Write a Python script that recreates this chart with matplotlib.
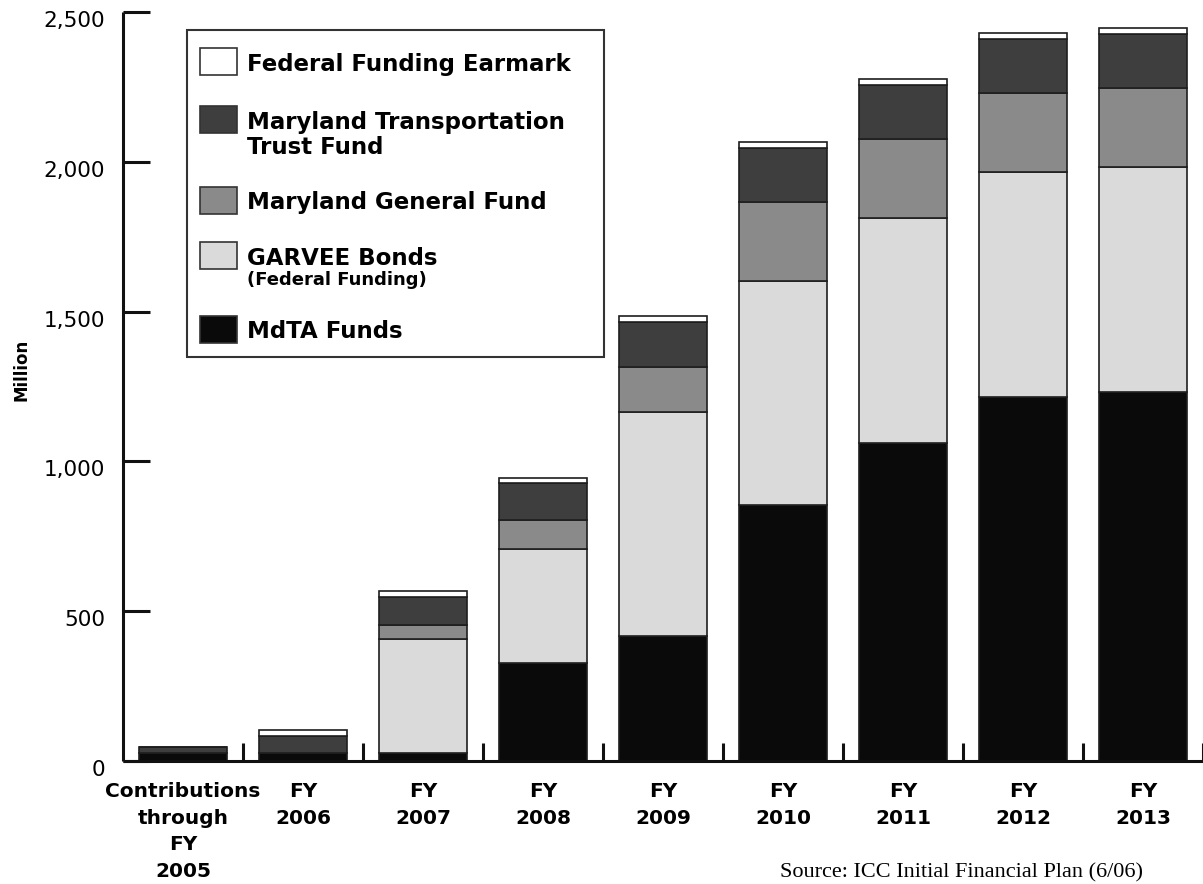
import numpy as np
import matplotlib
matplotlib.use("Agg")
import matplotlib.pyplot as plt
from matplotlib.patches import Rectangle
from matplotlib.transforms import ScaledTranslation

# funding by source, $ million
categories = ["Contributions\nthrough\nFY\n2005", "FY\n2006", "FY\n2007", "FY\n2008",
              "FY\n2009", "FY\n2010", "FY\n2011", "FY\n2012", "FY\n2013"]
mdta = [28, 27, 27, 327, 417, 853, 1062, 1216, 1233]
garvee = [0, 0, 380, 380, 748, 749, 750, 749, 750]
general_fund = [0, 0, 48, 98, 150, 265, 264, 266, 264]
trust_fund = [20, 57, 92, 122, 150, 180, 180, 179, 179]
earmark = [0, 21, 20, 17, 20, 20, 19, 19, 20]

series = [mdta, garvee, general_fund, trust_fund, earmark]
colors = ["#0a0a0a", "#dadada", "#8a8a8a", "#3e3e3e", "#ffffff"]

W, H = 1203, 884
fig = plt.figure(figsize=(W / 100, H / 100), dpi=100)
ax = fig.add_axes([123 / W, (H - 761) / H, (W - 123) / W, (761 - 12) / H])

x = np.arange(len(categories))
bottom = np.zeros(len(categories))
for vals, c in zip(series, colors):
    vals = np.array(vals, dtype=float)
    ax.bar(x, vals, 0.733, bottom=bottom, color=c, edgecolor="#1e1e1e", linewidth=1.2)
    bottom += vals

ax.set_xlim(-0.5, 8.5)
ax.set_ylim(0, 2500)

for s in ["top", "right"]:
    ax.spines[s].set_visible(False)
for s in ["left", "bottom"]:
    ax.spines[s].set_linewidth(2.2)
    ax.spines[s].set_color("#111111")
    ax.spines[s].set_capstyle("butt")

ax.set_yticks([0, 500, 1000, 1500, 2000, 2500])
ax.set_yticklabels(["0", "500", "1,000", "1,500", "2,000", "2,500"], fontsize=15.5,
                   family="DejaVu Sans")
ax.tick_params(axis="y", direction="in", length=19.5, width=2.2, pad=13, color="#111111")
offset = ScaledTranslation(0, -0.07, fig.dpi_scale_trans)
for lbl in ax.get_yticklabels():
    lbl.set_transform(lbl.get_transform() + offset)

ax.set_xticks(x)
ax.set_xticklabels(categories, fontsize=14.5, fontweight="bold", family="DejaVu Sans",
                   linespacing=1.52)
ax.tick_params(axis="x", which="major", length=0, pad=15)
ax.set_xticks(x + 0.5, minor=True)
ax.tick_params(axis="x", which="minor", direction="in", length=13, width=2.2, color="#111111")

fig.text(22 / W, 1 - 370 / H, "Million", rotation=90, fontsize=12, fontweight="bold",
         ha="center", va="center")

# legend box drawn by hand (mixed font sizes in one entry)
fig.add_artist(Rectangle((187 / W, 1 - 357 / H), (604 - 187) / W, (357 - 30) / H,
                         transform=fig.transFigure, fill=False, lw=1.5, ec="#333333"))
leg_items = [
    ("#ffffff", 48, ["Federal Funding Earmark"], [65]),
    ("#3e3e3e", 106, ["Maryland Transportation", "Trust Fund"], [122, 147]),
    ("#8a8a8a", 187, ["Maryland General Fund"], [203]),
    ("#dadada", 242, ["GARVEE Bonds"], [258]),
    ("#0a0a0a", 316, ["MdTA Funds"], [332]),
]
for c, top, lines, ys in leg_items:
    fig.add_artist(Rectangle((200 / W, 1 - (top + 27) / H), 37 / W, 27 / H,
                             transform=fig.transFigure, fc=c, ec="#333333", lw=1.2))
    for t, yy in zip(lines, ys):
        fig.text(247 / W, 1 - yy / H, t, fontsize=16.5, fontweight="bold",
                 ha="left", va="center")
fig.text(247 / W, 1 - 280 / H, "(Federal Funding)", fontsize=13, fontweight="bold",
         ha="left", va="center")

fig.text(780 / W, 1 - 882 / H, "Source: ICC Initial Financial Plan (6/06)",
         fontsize=16, family="Liberation Serif", ha="left", va="bottom")

fig.savefig("out.png", dpi=100)
